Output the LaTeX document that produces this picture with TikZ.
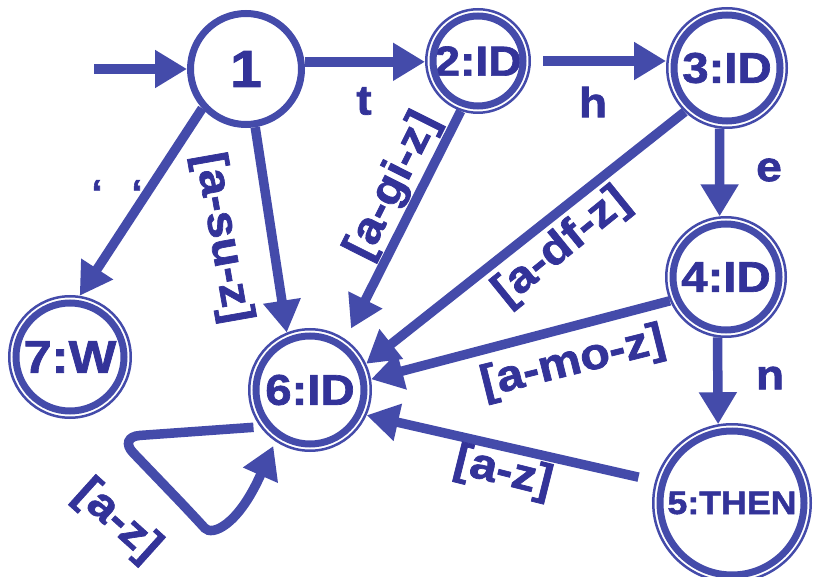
\documentclass[tikz,border=0pt]{standalone}
\usepackage{fontspec}
\setmainfont{Liberation Sans}[FakeStretch=1.1, BoldFeatures={FakeBold=1.6}]
\usetikzlibrary{arrows.meta}
\definecolor{lc}{RGB}{68,75,170}
\definecolor{tc}{RGB}{51,51,153}
\newcommand{\fs}[1]{\bfseries\fontsize{#1}{#1}\selectfont}
\begin{document}
\begin{tikzpicture}[x=1pt,y=-1pt,
  st/.style={circle, draw=lc, inner sep=0pt, text=tc, font=\fs{43}},
  single/.style={st, line width=7pt, minimum size=#1},
  acc/.style={st, line width=2.5pt, minimum size=#1},
  ring/.style={draw=lc, line width=7pt},
  edge/.style={draw=lc, line width=9.5pt, -{Triangle[length=32pt,width=36pt]}},
  lab/.style={text=tc, font=\fs{44}, inner sep=0pt},
  lett/.style={text=tc, font=\fs{42}, inner sep=0pt}]
\useasboundingbox (0,0) rectangle (814,577);
% states
\node[single=111, font=\fs{52}] (n1) at (246,69) {1};
\node[acc=103.5, font=\fs{42}] (n2) at (478,61) {2:ID};
\node[acc=119.5] (n3) at (727,68) {3:ID};
\node[acc=119.5] (n4) at (726,277) {4:ID};
\node[acc=157.5, font=\fs{32.5}] (n5) at (732,503) {5:THEN};
\node[acc=121.5] (n6) at (310,390) {6:ID};
\node[acc=121.5, font=\fs{46}] (n7) at (70,357) {7:W};
\foreach \n/\r in {n2/45, n3/53, n4/53, n5/72, n6/54, n7/54}
  \draw[ring] (\n.center) circle[radius=\r];
% start
\coordinate (s0) at (94,69);
\draw[edge] (s0) -- (n1.west);
% transitions
\draw[edge] (n1.7) -- (n1.7 -| n2.west);
\draw[edge, shorten <=12pt] (n2.east) -- (n2.east -| n3.west);
\draw[edge] (n3.263) -- (n4.96);
\draw[edge] (n4.262) -- (n5.100);
\draw[edge] (n1.222) -- (n7.81);
\draw[edge] (n1.279) -- (n6.112);
\draw[edge, shorten >=12pt] (n2.251) -- (n6.55);
\draw[edge] (n3.226) -- (n6.25);
\draw[edge] (n4.203) -- (n6.10);
\draw[edge, shorten <=17pt] (n5.164) -- (n6.336);
\draw[edge, rounded corners=22pt, shorten >=5pt] ([xshift=-7pt]n6.217) -- (118,437) -- (190,512)
  .. controls (212,536) and (238,526) .. (n6.236);
% labels
\node[lett] at (364,101) {t};
\node[lett] at (593,102) {h};
\node[lett] at (769,170) {e};
\node[lett] at (770,378) {n};
\node[lab, font=\fs{36}, anchor=base] at (117,205) {‘\hspace{29pt}‘};
\node[lab, rotate=-80] at (222,238) {[a-su-z]};
\node[lab, rotate=63.4] at (393,186) {[a-gi-z]};
\node[lab, rotate=39] at (562,247) {[a-df-z]};
\node[lab, rotate=14] at (573,363) {[a-mo-z]};
\node[lab, rotate=-14] at (503,473) {[a-z]};
\node[lab, rotate=-42] at (117,521) {[a-z]};
\end{tikzpicture}
\end{document}
